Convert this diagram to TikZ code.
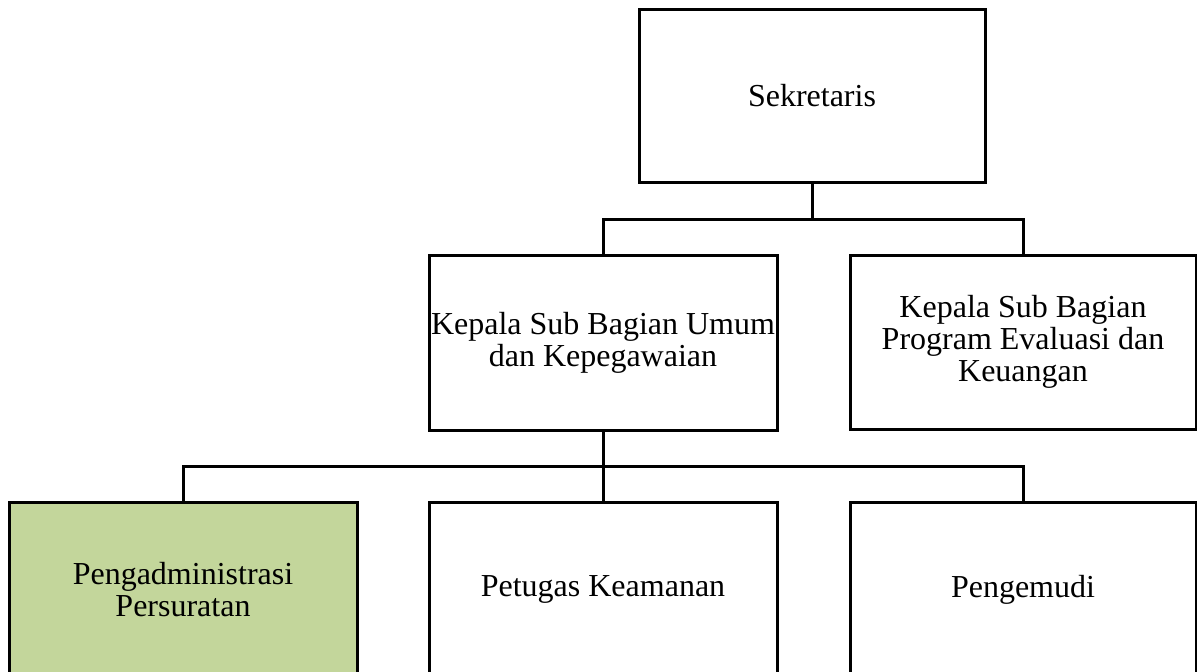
\documentclass[tikz,border=0pt]{standalone}
\usepackage{fontspec}
\setmainfont{Liberation Serif}
\begin{document}
\begin{tikzpicture}[x=1pt,y=-1pt,
  orgbox/.style={draw=black, line width=3pt, fill=white, align=center,
    inner sep=0pt, outer sep=0pt, font=\fontsize{32}{32}\selectfont},
  link/.style={draw=black, line width=3pt},
  greenfill/.style={fill=boxgreen}]
\definecolor{boxgreen}{HTML}{C3D69B}
\useasboundingbox (0,0) rectangle (1197,672);
\clip (0,0) rectangle (1197,672);

% top level
\node[orgbox, minimum width=346pt, minimum height=173pt] (sek) at (812,95.5) {Sekretaris};

% second level
\node[orgbox, minimum width=348pt, minimum height=175pt] (kum) at (603,342.5)
  {Kepala Sub Bagian Umum\\dan Kepegawaian};
\node[orgbox, minimum width=346pt, minimum height=174pt] (kpe) at (1023,342)
  {Kepala Sub Bagian\\Program Evaluasi dan\\Keuangan};

% third level
\node[orgbox, greenfill, minimum width=348pt, minimum height=175pt] (pa) at (183,589.5)
  {Pengadministrasi\\Persuratan};
\node[orgbox, minimum width=348pt, minimum height=175pt] (pk) at (603,589.5)
  {Petugas Keamanan};
\node[orgbox, minimum width=346pt, minimum height=175pt] (pd) at (1023,589.5)
  {Pengemudi};

% bus lines
\coordinate (b1) at (0,219);
\coordinate (b2) at (0,466);

\draw[link] (sek.south) -- (sek.south |- b1);
\draw[link] (kum.north) -- (kum.north |- b1) -- (kpe.north |- b1) -- (kpe.north);

\draw[link] (kum.south) -- (pk.north);
\draw[link] (pa.north) -- (pa.north |- b2) -- (pd.north |- b2) -- (pd.north);
\end{tikzpicture}
\end{document}
